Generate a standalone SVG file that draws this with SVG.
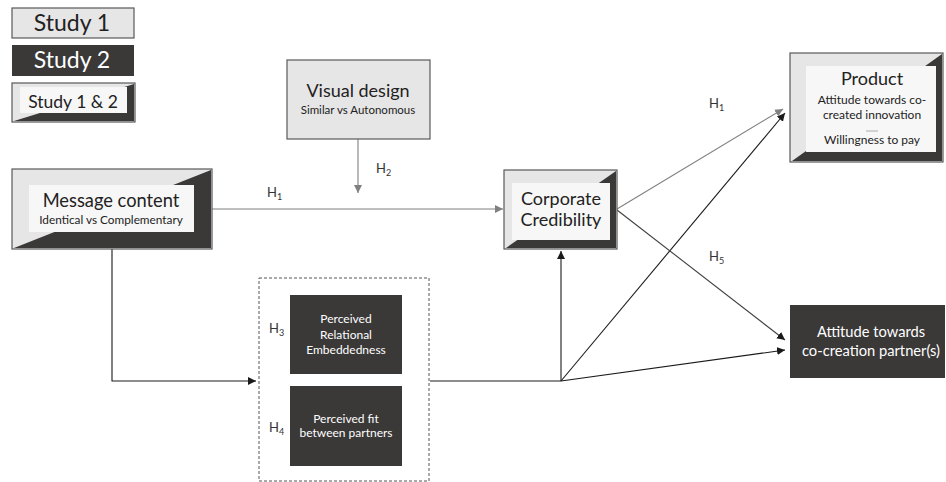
<svg xmlns="http://www.w3.org/2000/svg" width="946" height="482" viewBox="0 0 946 482">
<defs>
<style>
text{font-family:Lato,"Open Sans","Liberation Sans",sans-serif;text-anchor:middle;fill:#222222}
.lt{fill:#e7e6e6;stroke:#595959;stroke-width:1.2}
.dk{fill:#3b3838}
.in{fill:#f7f7f7}
.wt{fill:#ffffff}
.h{font-size:13px;text-anchor:start;fill:#333333}
.c{fill:none;stroke-width:1.1}
.g{stroke:#808080}
.b{stroke:#1a1a1a}
.d{stroke:#404040}
</style>
<marker id="ab" markerUnits="userSpaceOnUse" markerWidth="10" markerHeight="10" refX="8" refY="4" orient="auto"><path d="M0,0 L8,4 L0,8 z" fill="#1a1a1a"/></marker>
<marker id="ag" markerUnits="userSpaceOnUse" markerWidth="10" markerHeight="10" refX="8" refY="4" orient="auto"><path d="M0,0 L8,4 L0,8 z" fill="#808080"/></marker>
</defs>
<rect width="946" height="482" fill="#ffffff"/>

<g id="legend">
<g id="legend-study1">
<rect class="lt" x="12" y="8" width="122" height="30"/>
<text x="72" y="31" font-size="23">Study 1</text>
</g>
<g id="legend-study2">
<rect class="dk" x="12" y="45" width="122" height="31"/>
<text class="wt" x="72" y="68" font-size="23">Study 2</text>
</g>
<g id="legend-study12">
<rect class="lt" x="12" y="83" width="123" height="39"/>
<polygon class="dk" points="14,121 134,84 134,121"/>
<rect class="in" x="20" y="87" width="107" height="26"/>
<text x="73" y="108" font-size="17.5">Study 1 &amp; 2</text>
</g>
</g>

<g id="connectors">
<path class="c g" d="M358 139 V193" marker-end="url(#ag)"/>
<path class="c g" d="M212 209 H503" marker-end="url(#ag)"/>
<path class="c b" d="M112 249 V381 H256" marker-end="url(#ab)"/>
<path class="c b" d="M430 381 H561"/>
<path class="c b" d="M561 381 V251" marker-end="url(#ab)"/>
<path class="c b" d="M561 381 L785 113" marker-end="url(#ab)"/>
<path class="c b" d="M561 381 L785 350" marker-end="url(#ab)"/>
<path class="c g" d="M617 209 L783 109" marker-end="url(#ag)"/>
<path class="c d" d="M617 210 L785 340" marker-end="url(#ab)"/>
<text class="h" x="267" y="197">H<tspan font-size="9" dy="3">1</tspan></text>
<text class="h" x="376" y="173">H<tspan font-size="9" dy="3">2</tspan></text>
<text class="h" x="269" y="333">H<tspan font-size="9" dy="3">3</tspan></text>
<text class="h" x="269" y="432">H<tspan font-size="9" dy="3">4</tspan></text>
<text class="h" x="709" y="108">H<tspan font-size="9" dy="3">1</tspan></text>
<text class="h" x="709" y="261">H<tspan font-size="9" dy="3">5</tspan></text>
</g>

<g id="visual-design">
<rect class="lt" x="287" y="60" width="143" height="79"/>
<text x="358" y="97" font-size="18">Visual design</text>
<text x="358" y="114" font-size="11.5">Similar vs Autonomous</text>
</g>

<g id="message-content">
<rect class="lt" x="12" y="169" width="200" height="80"/>
<polygon class="dk" points="14,248 211,170 211,248"/>
<rect class="in" x="29" y="185" width="165" height="47"/>
<text x="111" y="207" font-size="18.3">Message content</text>
<text x="111" y="224" font-size="11.8">Identical vs Complementary</text>
</g>

<g id="corporate-credibility">
<rect class="lt" x="504" y="170" width="113" height="79"/>
<polygon class="dk" points="506,248 616,171 616,248"/>
<rect class="in" x="512" y="183" width="98" height="57"/>
<text x="561" y="205" font-size="18">Corporate</text>
<text x="561" y="226" font-size="18">Credibility</text>
</g>

<g id="mediators">
<rect x="259" y="278" width="170" height="203" fill="none" stroke="#555555" stroke-width="1" stroke-dasharray="3 2"/>
<g id="relational-embeddedness">
<rect class="dk" x="290" y="295" width="112" height="79"/>
<text class="wt" x="346" y="323" font-size="12">Perceived</text>
<text class="wt" x="346" y="339" font-size="12">Relational</text>
<text class="wt" x="346" y="354" font-size="12">Embeddedness</text>
</g>
<g id="perceived-fit">
<rect class="dk" x="290" y="386" width="112" height="80"/>
<text class="wt" x="346" y="423" font-size="12">Perceived fit</text>
<text class="wt" x="346" y="437" font-size="12">between partners</text>
</g>
</g>

<g id="product">
<rect class="lt" x="790" y="53" width="153" height="109"/>
<polygon class="dk" points="792,161 942,54 942,161"/>
<rect class="in" x="806" y="66" width="130" height="86"/>
<text x="872" y="85" font-size="18">Product</text>
<text x="872" y="104" font-size="12">Attitude towards co-</text>
<text x="872" y="119" font-size="12">created innovation</text>
<line x1="866" y1="131" x2="878" y2="131" stroke="#999999" stroke-width="0.8"/>
<text x="872" y="144" font-size="12">Willingness to pay</text>
</g>

<g id="attitude-partner">
<rect class="dk" x="790" y="305" width="155" height="73"/>
<text class="wt" x="871" y="337" font-size="14.7">Attitude towards</text>
<text class="wt" x="871" y="356" font-size="14.7">co-creation partner(s)</text>
</g>
</svg>
